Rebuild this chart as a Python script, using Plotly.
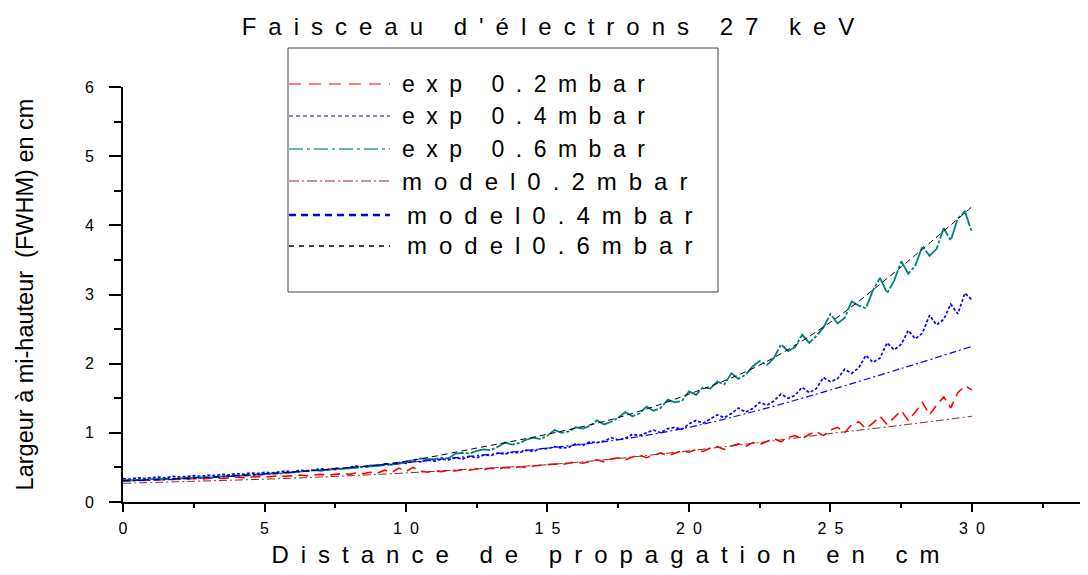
import plotly.graph_objects as go

# distances (cm) for the measured profiles, one value every 0.25 cm
distance = [i * 0.25 for i in range(121)]

exp_02 = [0.32, 0.31, 0.32, 0.31, 0.32, 0.32, 0.33, 0.32, 0.33, 0.33,
          0.34, 0.33, 0.34, 0.35, 0.34, 0.35, 0.36, 0.35, 0.36, 0.37,
          0.36, 0.37, 0.38, 0.37, 0.38, 0.39, 0.38, 0.39, 0.40, 0.39,
          0.40, 0.41, 0.40, 0.42, 0.41, 0.43, 0.42, 0.46, 0.43, 0.49,
          0.44, 0.50, 0.45, 0.43, 0.45, 0.44, 0.46, 0.45, 0.47, 0.46,
          0.48, 0.47, 0.49, 0.48, 0.50, 0.49, 0.51, 0.50, 0.52, 0.53,
          0.53, 0.55, 0.54, 0.56, 0.58, 0.56, 0.59, 0.61, 0.58, 0.62,
          0.64, 0.61, 0.65, 0.68, 0.64, 0.67, 0.71, 0.67, 0.70, 0.74,
          0.72, 0.76, 0.73, 0.78, 0.80, 0.76, 0.81, 0.84, 0.80, 0.86,
          0.83, 0.88, 0.92, 0.87, 0.93, 0.96, 0.91, 0.98, 1.02, 0.96,
          1.04, 1.08, 1.00, 1.12, 1.16, 1.06, 1.14, 1.24, 1.12, 1.22,
          1.32, 1.18, 1.30, 1.44, 1.26, 1.40, 1.52, 1.36, 1.58, 1.68,
          1.62]

exp_04 = [0.34, 0.33, 0.35, 0.34, 0.35, 0.36, 0.35, 0.37, 0.36, 0.37,
          0.38, 0.37, 0.39, 0.38, 0.40, 0.39, 0.41, 0.40, 0.42, 0.41,
          0.43, 0.42, 0.44, 0.45, 0.43, 0.46, 0.45, 0.47, 0.48, 0.46,
          0.49, 0.48, 0.50, 0.52, 0.50, 0.53, 0.52, 0.55, 0.54, 0.57,
          0.56, 0.59, 0.58, 0.61, 0.59, 0.62, 0.61, 0.64, 0.62, 0.66,
          0.64, 0.68, 0.67, 0.71, 0.69, 0.72, 0.71, 0.75, 0.73, 0.77,
          0.77, 0.80, 0.78, 0.79, 0.84, 0.82, 0.87, 0.86, 0.88, 0.93,
          0.90, 0.92, 0.98, 0.96, 1.00, 1.04, 1.00, 1.06, 1.08, 1.05,
          1.13, 1.18, 1.14, 1.20, 1.26, 1.22, 1.28, 1.36, 1.30, 1.35,
          1.44, 1.40, 1.46, 1.56, 1.50, 1.54, 1.66, 1.58, 1.64, 1.80,
          1.74, 1.78, 1.92, 1.86, 1.94, 2.12, 2.02, 2.08, 2.30, 2.20,
          2.28, 2.48, 2.36, 2.44, 2.70, 2.56, 2.64, 2.86, 2.72, 3.02,
          2.92]

exp_06 = [0.31, 0.31, 0.32, 0.32, 0.33, 0.33, 0.33, 0.34, 0.34, 0.35,
          0.35, 0.36, 0.36, 0.36, 0.37, 0.38, 0.38, 0.38, 0.39, 0.40,
          0.40, 0.41, 0.41, 0.42, 0.43, 0.43, 0.44, 0.46, 0.45, 0.47,
          0.47, 0.48, 0.49, 0.49, 0.50, 0.52, 0.52, 0.53, 0.55, 0.55,
          0.58, 0.60, 0.63, 0.62, 0.62, 0.64, 0.63, 0.70, 0.71, 0.70,
          0.74, 0.76, 0.75, 0.80, 0.86, 0.83, 0.85, 0.90, 0.93, 0.91,
          0.96, 1.04, 1.00, 1.02, 1.08, 1.06, 1.10, 1.18, 1.12, 1.16,
          1.22, 1.30, 1.24, 1.28, 1.38, 1.32, 1.36, 1.48, 1.44, 1.46,
          1.60, 1.55, 1.66, 1.64, 1.74, 1.70, 1.86, 1.78, 1.84, 1.96,
          2.04, 1.98, 2.08, 2.28, 2.18, 2.24, 2.42, 2.30, 2.40, 2.52,
          2.72, 2.58, 2.66, 2.90, 2.84, 2.80, 3.06, 3.24, 3.02, 3.20,
          3.48, 3.30, 3.42, 3.70, 3.56, 3.66, 3.96, 3.78, 4.10, 4.20,
          3.90]

model_x = [0, 2.5, 5, 7.5, 10, 12.5, 15, 17.5, 20, 22.5, 25, 27.5, 30]
model_02 = [0.27, 0.30, 0.33, 0.37, 0.42, 0.48, 0.54, 0.63, 0.74, 0.86, 0.99, 1.11, 1.24]
model_04 = [0.30, 0.34, 0.40, 0.48, 0.57, 0.67, 0.78, 0.90, 1.08, 1.33, 1.62, 1.93, 2.25]
model_06 = [0.31, 0.35, 0.41, 0.48, 0.59, 0.78, 0.98, 1.22, 1.56, 1.98, 2.60, 3.40, 4.27]

labels = ["exp 0.2mbar", "exp 0.4mbar", "exp 0.6mbar",
          "model0.2mbar", "model0.4mbar", "model0.6mbar"]
x_ticks = [0, 5, 10, 15, 20, 25, 30]
y_ticks = [0, 1, 2, 3, 4, 5, 6]

# target picture is 1088x575, the page puts the figure 8px in from the corner
OFF = 8
W, H = 1088 - OFF, 575 - OFF
PL, PR, PT, PB = 123, 1088, 87, 502   # plot area in picture pixels
FONT = "Liberation Sans, Arial, sans-serif"


def spaced(s, gap="\u2002"):
    return gap.join(s)


def px_x(p):
    return (p - PL) / (PR - PL)


def px_y(p):
    return (PB - p) / (PB - PT)


styles = [
    dict(color="#ff0000", width=1.6, dash="10px,6px"),
    dict(color="#0000ff", width=1.7, dash="3px,2px"),
    dict(color="#008080", width=1.8, dash="20px,2px,3px,2px"),
    dict(color="#8b2a2a", width=1, dash="8px,3px,2px,3px"),
    dict(color="#0000ff", width=1.2, dash="7px,3px,2px,3px"),
    dict(color="#000000", width=1, dash="6px,4px"),
]

fig = go.Figure()
for ys, st in zip([exp_02, exp_04, exp_06], styles[:3]):
    fig.add_trace(go.Scatter(x=distance, y=ys, mode="lines", line=st,
                             showlegend=False))
for ys, st in zip([model_02, model_04, model_06], styles[3:]):
    fig.add_trace(go.Scatter(x=model_x, y=ys, mode="lines", line=st,
                             line_shape="spline", showlegend=False))

# hand drawn legend box (long line samples like the original)
legend_style = [
    dict(color="#ff0000", width=1.2, dash="12px,8px"),
    dict(color="#0000ff", width=1.2, dash="4px,3px"),
    dict(color="#3a9a9a", width=1.5, dash="14px,4px,3px,4px"),
    dict(color="#8b2a2a", width=1.2, dash="10px,3px,2px,3px"),
    dict(color="#0000ff", width=2.5, dash="7px,5px"),
    dict(color="#000000", width=1.5, dash="5px,5px"),
]
row_y = [84, 116, 149, 181, 215, 246]
text_x = [400, 400, 400, 400, 405, 405]
text_size = [23, 23, 23, 24, 24, 24]

shapes = [dict(type="rect", xref="paper", yref="paper",
               x0=px_x(288), x1=px_x(718), y0=px_y(292), y1=px_y(48),
               line=dict(color="#444444", width=1))]
annotations = []
for lab, st, ry, tx, ts in zip(labels, legend_style, row_y, text_x, text_size):
    shapes.append(dict(type="line", xref="paper", yref="paper",
                       x0=px_x(289), x1=px_x(390), y0=px_y(ry), y1=px_y(ry),
                       line=st))
    annotations.append(dict(text=spaced(lab), xref="paper", yref="paper",
                            x=px_x(tx), y=px_y(ry), xanchor="left",
                            yanchor="middle", showarrow=False,
                            font=dict(family=FONT, size=ts, color="black")))

fig.update_layout(
    width=W, height=H,
    margin=dict(l=PL - OFF, r=0, t=PT - OFF, b=H - (PB - OFF)),
    paper_bgcolor="white", plot_bgcolor="white",
    font=dict(family=FONT, color="black"),
    title=dict(text=spaced("Faisceau d'électrons 27 keV"),
               x=(548 - OFF) / W, xanchor="center",
               y=1 - (27 - OFF) / H, yanchor="middle",
               yref="container", font=dict(size=24, color="black")),
    shapes=shapes,
    annotations=annotations,
)

fig.update_xaxes(
    range=[0, 34.1], showgrid=False, zeroline=False, automargin=False,
    showline=True, linecolor="black", linewidth=2,
    ticks="outside", ticklen=8, tickwidth=2, tickcolor="black",
    tickvals=x_ticks, ticktext=[spaced(str(v)) for v in x_ticks],
    tickfont=dict(size=16), ticklabelstandoff=3,
    minor=dict(dtick=2.5, ticks="outside", ticklen=4, tickwidth=2,
               tickcolor="black", showgrid=False),
    title=dict(text=spaced("Distance de propagation en cm"),
               font=dict(size=24), standoff=10),
)
fig.update_yaxes(
    range=[0, 6], showgrid=False, zeroline=False, automargin=False,
    showline=True, linecolor="black", linewidth=2,
    ticks="outside", ticklen=12, tickwidth=2, tickcolor="black",
    tickvals=y_ticks, tickfont=dict(size=16), ticklabelstandoff=12,
    minor=dict(dtick=0.5, ticks="outside", ticklen=7, tickwidth=2,
               tickcolor="black", showgrid=False),
    title=dict(text="Largeur à mi-hauteur \u00a0(FWHM) en cm",
               font=dict(size=23.5), standoff=45),
)

fig.write_html("out.html")
